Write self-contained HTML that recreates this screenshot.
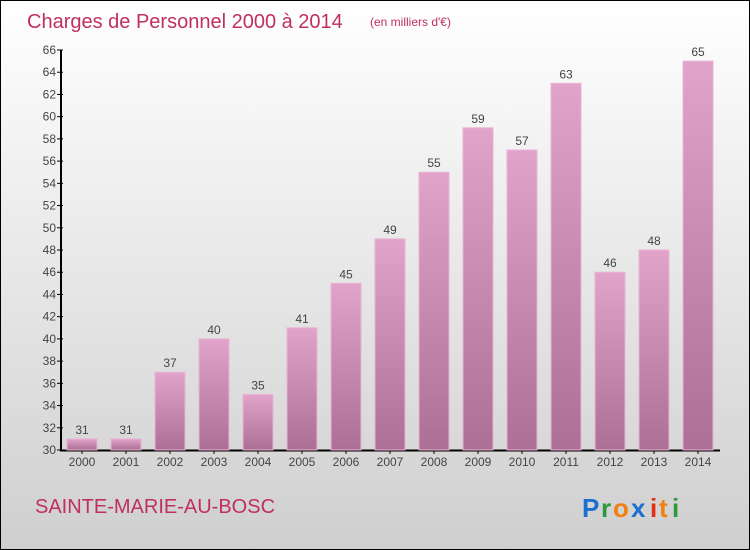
<!DOCTYPE html>
<html><head><meta charset="utf-8"><style>
html,body{margin:0;padding:0}
body{width:750px;height:550px;overflow:hidden;font-family:"Liberation Sans",sans-serif}
#frame{position:absolute;left:0;top:0;width:748px;height:548px;border:1px solid #000;background:linear-gradient(#ffffff,#cfcfcf)}
</style></head><body>
<div id="frame"></div>
<svg id="chart" width="750" height="550" style="position:absolute;left:0;top:0">
<defs>
<linearGradient id="bg" x1="0" y1="0" x2="0" y2="1"><stop offset="0" stop-color="#e2a3cb"/><stop offset="1" stop-color="#ad6f93"/></linearGradient>
</defs>
<text x="27" y="28" font-size="20" fill="#c0305f">Charges de Personnel 2000 à 2014</text>
<text x="370" y="26" font-size="12" fill="#c0305f">(en milliers d'€)</text>
<text x="35" y="513" font-size="20" fill="#c0305f">SAINTE-MARIE-AU-BOSC</text>
<g font-size="26" font-weight="bold" font-family="'Liberation Sans',sans-serif">
<text x="582" y="517" fill="#1a6fd0">P</text><text x="601" y="517" fill="#2a9a3a">r</text><text x="613" y="517" fill="#f08010">o</text><text x="631" y="517" fill="#1a6fd0">x</text><text x="650" y="517" fill="#e03010">i</text><text x="659" y="517" fill="#f08010">t</text><text x="672" y="517" fill="#2a9a3a">i</text>
</g>
<g id="axes"></g>
<g id="bars"></g>
</svg>
<script>
const categories=["2000","2001","2002","2003","2004","2005","2006","2007","2008","2009","2010","2011","2012","2013","2014"];
const values=[31,31,37,40,35,41,45,49,55,59,57,63,46,48,65];
const yTicks=[30,32,34,36,38,40,42,44,46,48,50,52,54,56,58,60,62,64,66];
const NS="http://www.w3.org/2000/svg";
const yMin=30,yMax=66,plotTop=50,plotBottom=450,x0=60,step=44,bw=30;
function y(v){return plotBottom-(v-yMin)/(yMax-yMin)*(plotBottom-plotTop);}
function xc(i){return 82+i*step;}
function mk(tag,attrs,parent){const e=document.createElementNS(NS,tag);for(const k in attrs)e.setAttribute(k,attrs[k]);parent.appendChild(e);return e;}
const axes=document.getElementById('axes'),bars=document.getElementById('bars');
yTicks.forEach(t=>{
 const l=mk('line',{x1:x0-3,x2:x0+3,y1:y(t),y2:y(t),stroke:'#000'},axes);
 
 
 const tx=mk('text',{x:x0-4,y:y(t)+4,'text-anchor':'end','font-size':12,fill:'#444'},axes);
 tx.textContent=t;
 
 
});
const ya=mk('line',{x1:x0+1,x2:x0+1,y1:plotTop,y2:plotBottom+1,stroke:'#000','stroke-width':2},axes);


const xa=mk('line',{x1:x0,x2:720,y1:plotBottom+0.5,y2:plotBottom+0.5,stroke:'#000','stroke-width':2},axes);


categories.forEach((c,i)=>{
 const v=values[i];
 const r=mk('rect',{x:xc(i)-bw/2,y:y(v),width:bw,height:plotBottom-y(v),fill:'url(#bg)',stroke:'#e8b4d4','stroke-width':1},bars);
 
 
 const lb=mk('text',{x:xc(i),y:y(v)-5,'text-anchor':'middle','font-size':12,fill:'#444'},bars);
 lb.textContent=v;
 
 
 const tk=mk('line',{x1:xc(i),x2:xc(i),y1:plotBottom,y2:plotBottom+4,stroke:'#000'},axes);
 
 
 const xl=mk('text',{x:xc(i),y:plotBottom+16,'text-anchor':'middle','font-size':12,fill:'#444'},axes);
 xl.textContent=c;
 
 
});
</script>
</body></html>
